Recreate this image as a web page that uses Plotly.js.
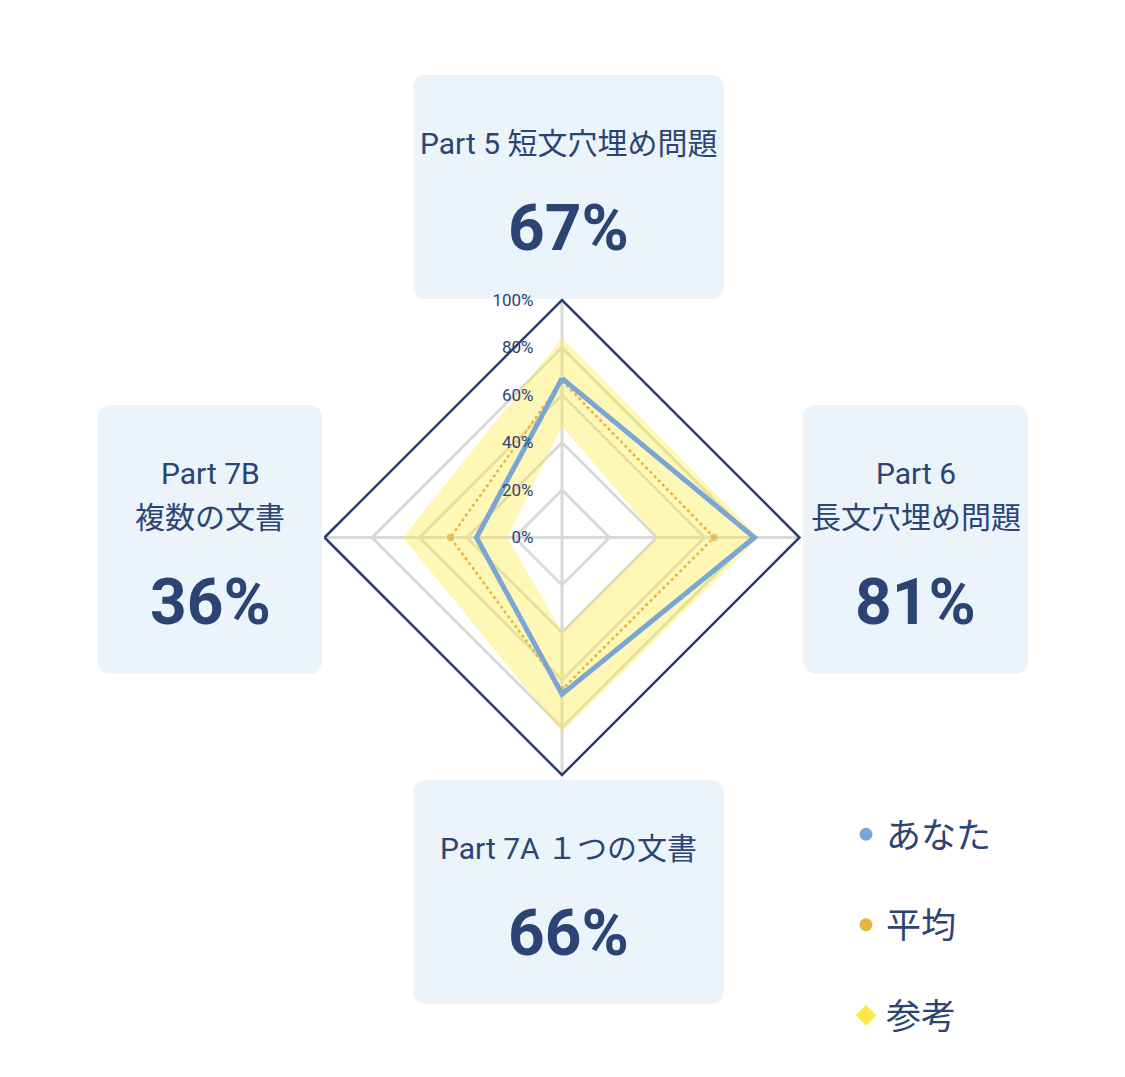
<!DOCTYPE html>
<html>
<head>
<meta charset="utf-8">
<script src="https://cdn.plot.ly/plotly-3.0.1.min.js"></script>
<style>
html,body{margin:0;padding:0;background:#fff;}
#chart{width:1125px;height:1077px;}
</style>
</head>
<body>
<div id="chart"></div>
<script>
// ---- data ----
const categories = ['Part 5', 'Part 6', 'Part 7A', 'Part 7B'];
const boxTitleLines = [
  ['Part 5 短文穴埋め問題'],
  ['Part 6', '長文穴埋め問題'],
  ['Part 7A １つの文書'],
  ['Part 7B', '複数の文書']
];
const yourScores = [67, 81, 66, 36];
const avgScores = [66, 64, 64, 47];
const refUpper = [84, 83, 82, 67];
const refLower = [47, 40, 40, 23];
const radialTicks = [0, 20, 40, 60, 80, 100];
const radialTickText = ['0%', '20%', '40%', '60%', '80%', '100%'];
const legendNames = ['あなた', '平均', '参考'];

// ---- style ----
const W = 1125, H = 1077;
const NAVY = '#2c4474';
const FONT = 'Roboto, "Noto Sans CJK JP", sans-serif';
const px = x => x / W;
const py = y => 1 - y / H;

function closed(a) { return a.concat([a[0]]); }

// reference band: outer ring then inner ring reversed -> hole
const bandTheta = closed(categories).concat(closed(categories.slice().reverse()));
const bandR = closed(refUpper).concat(closed(refLower.slice().reverse()));

const traces = [
  {
    type: 'scatterpolar', r: bandR, theta: bandTheta,
    mode: 'lines', fill: 'toself', fillcolor: 'rgba(255,234,60,0.38)',
    line: {width: 0, color: 'rgba(0,0,0,0)'}, showlegend: false, hoverinfo: 'skip'
  },
  {
    type: 'scatterpolar', r: closed(avgScores), theta: closed(categories),
    mode: 'lines+markers', line: {color: '#e6b444', width: 2.5, dash: 'dot'},
    marker: {color: '#e6b444', size: [9, 9, 9, 9, 0]}, showlegend: false
  },
  {
    type: 'scatterpolar', r: closed(yourScores), theta: closed(categories),
    mode: 'lines', line: {color: '#7aa6d5', width: 5}, showlegend: false
  },
  // legend entries
  {type: 'scatterpolar', r: [null], theta: [null], mode: 'markers', name: legendNames[0],
   marker: {color: '#7aa6d5', size: 13}, legendgroup: 'a'},
  {type: 'scatterpolar', r: [null], theta: [null], mode: 'markers', name: legendNames[1],
   marker: {color: '#e6b444', size: 13}, legendgroup: 'b'},
  {type: 'scatterpolar', r: [null], theta: [null], mode: 'markers', name: legendNames[2],
   marker: {color: '#ffe94a', size: 16, symbol: 'diamond'}, legendgroup: 'c'}
];

// rounded boxes
function roundRect(x0, y0, x1, y1, r) {
  const P = (x, y) => px(x) + ',' + py(y);
  return 'M' + P(x0 + r, y0) + ' L' + P(x1 - r, y0) + ' Q' + P(x1, y0) + ' ' + P(x1, y0 + r) +
    ' L' + P(x1, y1 - r) + ' Q' + P(x1, y1) + ' ' + P(x1 - r, y1) +
    ' L' + P(x0 + r, y1) + ' Q' + P(x0, y1) + ' ' + P(x0, y1 - r) +
    ' L' + P(x0, y0 + r) + ' Q' + P(x0, y0) + ' ' + P(x0 + r, y0) + ' Z';
}
const boxes = [
  [413, 75, 724, 299],
  [803, 405, 1028, 674],
  [413, 780, 724, 1004],
  [98, 405, 322, 674]
];
const shapes = boxes.map(b => ({
  type: 'path', xref: 'paper', yref: 'paper', path: roundRect(b[0], b[1], b[2], b[3], 14),
  fillcolor: '#ebf3fb', line: {width: 0}, layer: 'below'
}));

// text in boxes
const annotations = [];
const titleY = [[144], [473, 518], [848], [473, 518]];
const pctY = [228, 602, 933, 602];
boxes.forEach((b, i) => {
  const cx = (b[0] + b[2]) / 2;
  boxTitleLines[i].forEach((t, j) => {
    annotations.push({xref: 'paper', yref: 'paper', x: px(cx), y: py(titleY[i][j]),
      xanchor: 'center', yanchor: 'middle', showarrow: false, text: t,
      font: {family: FONT, size: 30, color: NAVY}});
  });
  annotations.push({xref: 'paper', yref: 'paper', x: px(cx), y: py(pctY[i]),
    xanchor: 'center', yanchor: 'middle', showarrow: false, text: yourScores[i] + '%',
    font: {family: FONT, size: 64, color: NAVY, weight: 700}});
});

const layout = {
  width: W, height: H,
  margin: {l: 0, r: 0, t: 0, b: 0},
  paper_bgcolor: '#ffffff',
  font: {family: FONT, color: NAVY},
  showlegend: true,
  legend: {
    x: px(846), y: py(805), xanchor: 'left', yanchor: 'top',
    font: {family: FONT, size: 35, color: NAVY},
    tracegroupgap: 42, bgcolor: 'rgba(0,0,0,0)'
  },
  polar: {
    domain: {x: [px(324.5), px(799.5)], y: [py(775), py(300)]},
    bgcolor: 'rgba(0,0,0,0)',
    gridshape: 'linear',
    angularaxis: {
      type: 'category', categoryarray: categories, direction: 'clockwise', rotation: 90,
      showticklabels: false, ticks: '',
      showline: true, linecolor: '#2b3f6e', linewidth: 2.5,
      showgrid: true, gridcolor: '#d9d9d9', gridwidth: 3
    },
    radialaxis: {
      range: [0, 100], tickvals: radialTicks, ticktext: radialTickText,
      angle: 90, side: 'counterclockwise', tickangle: 90,
      showline: false, ticks: 'outside', ticklen: 22, tickcolor: 'rgba(0,0,0,0)',
      showgrid: true, gridcolor: '#d9d9d9', gridwidth: 3,
      tickfont: {family: FONT, size: 17, color: NAVY}
    }
  },
  shapes: shapes,
  annotations: annotations
};

Plotly.newPlot('chart', traces, layout, {displayModeBar: false, staticPlot: true});
</script>
</body>
</html>
